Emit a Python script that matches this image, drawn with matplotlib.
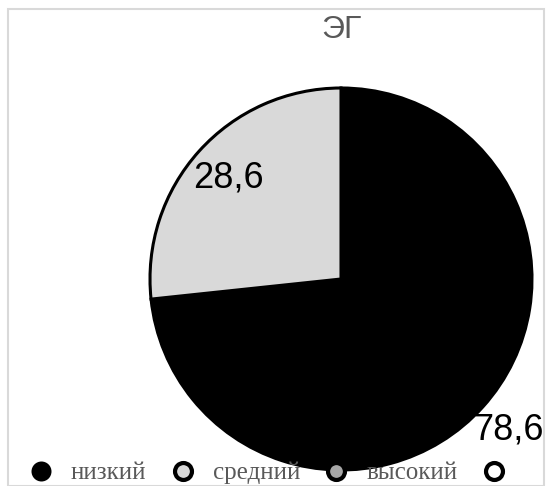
import matplotlib
matplotlib.use("Agg")
import matplotlib.pyplot as plt
from matplotlib.lines import Line2D
from matplotlib.patches import Rectangle
import numpy as np

title = "ЭГ"
categories = ["низкий", "средний", "высокий", ""]
values = [78.6, 28.6, 0.0, 0.0]
value_labels = ["78,6", "28,6", "", ""]
colors = ["#000000", "#d9d9d9", "#a6a6a6", "#ffffff"]

W, H = 547, 486
fig = plt.figure(figsize=(W / 100, H / 100), dpi=100)
fig.patch.set_facecolor("white")

# chart border
fig.patches.append(Rectangle((8 / W, 0 / H), (544 - 8) / W, (486 - 11 + 2) / H,
                             transform=fig.transFigure, fill=False,
                             edgecolor="#d9d9d9", linewidth=1.5))

cx, cy, r = 341, 279, 191
ax = fig.add_axes([(cx - r) / W, (H - cy - r) / H, 2 * r / W, 2 * r / H])

shown = [(v, c, l) for v, c, l in zip(values, colors, value_labels) if v > 0]
wedges, _ = ax.pie([s[0] for s in shown], colors=[s[1] for s in shown],
                   startangle=90, counterclock=False, radius=1,
                   wedgeprops=dict(edgecolor="black", linewidth=2.2))
ax.set_xlim(-1, 1)
ax.set_ylim(-1, 1)
ax.axis("off")

dists = [1.18, 0.79]
for w, (v, c, l), d in zip(wedges, shown, dists):
    ang = np.deg2rad((w.theta1 + w.theta2) / 2)
    ax.text(d * np.cos(ang), d * np.sin(ang), l, ha="center", va="center",
            fontsize=26, family="Liberation Sans", color="black", clip_on=False)

fig.text(342 / W, 1 - 30 / H, title, ha="center", va="center", fontsize=23,
         family="Liberation Sans", color="#595959")

handles = []
for i, (cat, col) in enumerate(zip(categories, colors)):
    if i == 0:
        handles.append(Line2D([], [], linestyle="none", marker="o", markersize=14.4,
                              markerfacecolor=col, markeredgecolor=col,
                              markeredgewidth=0))
    else:
        handles.append(Line2D([], [], linestyle="none", marker="o", markersize=12.2,
                              markerfacecolor=col, markeredgecolor="black",
                              markeredgewidth=3.0))
leg = fig.legend(handles, categories, loc="center left", ncol=4,
                 bbox_to_anchor=(31 / W, 1 - 473 / H), frameon=False,
                 prop=dict(family="Liberation Serif", size=18),
                 handlelength=0.8, handletextpad=0.8, columnspacing=1.05,
                 borderpad=0, borderaxespad=0)
for t in leg.get_texts():
    t.set_color("#595959")

fig.savefig("out.png", dpi=100, facecolor="white")
